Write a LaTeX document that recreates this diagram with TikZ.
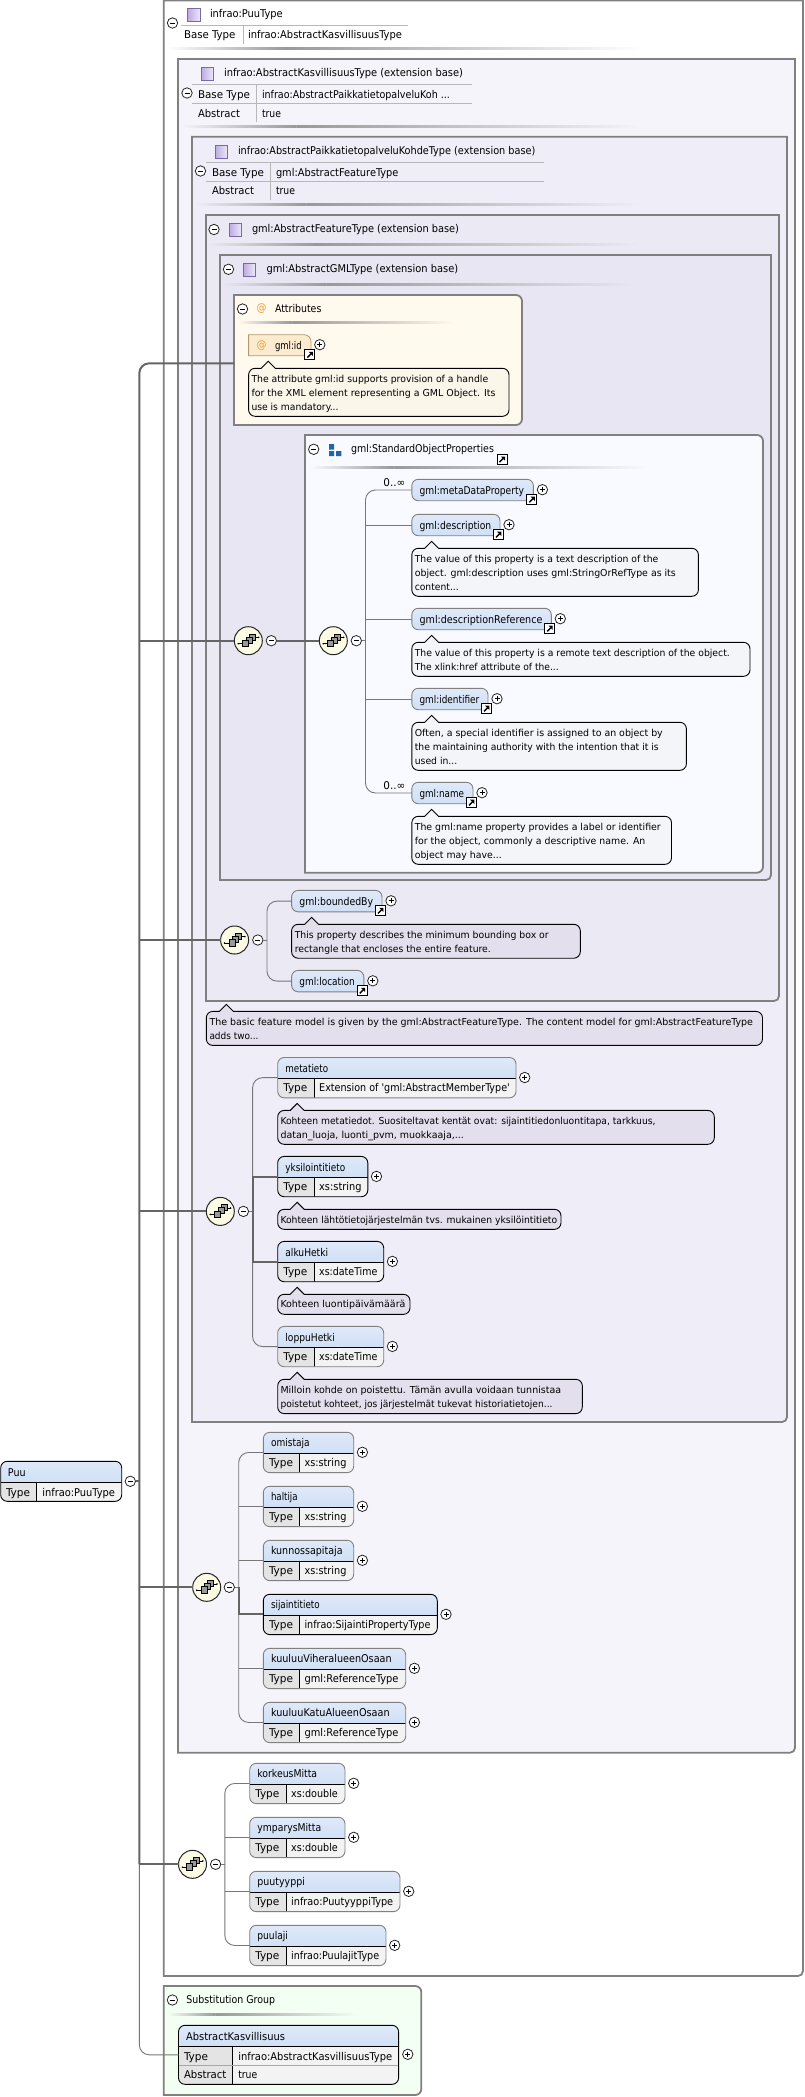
\documentclass[tikz,border=0pt]{standalone}
\usepackage{graphicx}
\usepackage{fontspec}
\newfontfamily\lf{DejaVu Sans Condensed}
\newfontfamily\df{DejaVu Sans Condensed}
\definecolor{frameg}{HTML}{808080}
\definecolor{conng}{HTML}{777777}
\definecolor{bgA}{HTML}{F5F4FB}
\definecolor{bgB}{HTML}{EFEDF7}
\definecolor{bgC}{HTML}{EBE9F4}
\definecolor{bgD}{HTML}{E8E6F2}
\definecolor{bgAttr}{HTML}{FFF9EE}
\definecolor{bgSop}{HTML}{F9FAFF}
\definecolor{bgSub}{HTML}{F4FFF4}
\definecolor{docFr}{HTML}{E3DFEC}
\definecolor{docAt}{HTML}{FAF6EA}
\definecolor{docSo}{HTML}{F4F5F8}
\definecolor{hdrT}{HTML}{DFE9F9}
\definecolor{hdrB}{HTML}{D0E0F5}
\definecolor{typeC}{HTML}{E4E4E4}
\definecolor{valC}{HTML}{F3F3F3}
\definecolor{sepD}{HTML}{999999}
\definecolor{tabL}{HTML}{B8B8B8}
\definecolor{ico}{HTML}{7B68A8}
\definecolor{icoL}{HTML}{BBAAE2}
\definecolor{icoR}{HTML}{EDE8F8}
\definecolor{atO}{HTML}{E8A030}
\definecolor{blueS}{HTML}{1F66AE}
\definecolor{compF}{HTML}{FCFCE4}
\definecolor{idF}{HTML}{FDEBCF}
\definecolor{idL}{HTML}{B09A70}
\tikzset{
 lbl/.style={anchor=base west,inner sep=0pt,outer sep=0pt,yshift=-3.8pt,font=\lf\fontsize{10.7}{12}\selectfont,text=black},
 dtext/.style={anchor=base west,inner sep=0pt,outer sep=0pt,yshift=-3.5pt,font=\df\fontsize{9.6}{12}\selectfont,text=black},
 atsign/.style={anchor=center,inner sep=0pt,font=\lf\fontsize{11}{12}\selectfont,text=atO},
 frameline/.style={draw=frameg,line width=1.8pt},
 docline/.style={draw=black,line width=0.9pt},
 circ/.style={circle,draw=black!85,line width=0.8pt,fill=white,minimum size=10.4pt,inner sep=0pt,outer sep=0pt},
 compnode/.style={circle,draw=black!85,line width=1pt,fill=compF,minimum size=28pt,inner sep=0pt,outer sep=0pt},
 conn/.style={draw=conng,line width=0.9pt},
 tconn/.style={draw=conng!85!black,line width=2pt},
 roundel/.style={rectangle,rounded corners=6.5pt,inner sep=0pt,outer sep=0pt,anchor=north west,line width=0.9pt},
 optl/.style={draw=frameg},
 reql/.style={draw=black},
 tabline/.style={draw=tabL,line width=0.8pt},
}
\newcount\nctr
\newcommand{\nextid}{\global\advance\nctr by 1 }
\newcommand{\lbl}[4]{\nextid\node[lbl] (t\the\nctr) at (#1,#2) {\resizebox{#3pt}{\height}{#4}};}
\newcommand{\dl}[4]{\nextid\node[dtext] (t\the\nctr) at (#1,#2) {\resizebox{#3pt}{\height}{#4}};}
\newcommand{\sepline}[4]{%
 \pgfmathsetmacro\xmid{#1+0.25*(#2-#1)}%
 \shade[left color=#4,right color=sepD] (#1,#3-1) rectangle (\xmid,#3+1);%
 \shade[left color=sepD,right color=#4] (\xmid,#3-1) rectangle (#2,#3+1);}
\newcommand{\ticon}[2]{\shade[draw=ico,line width=0.8pt,left color=icoL,right color=icoR] (#1,#2) rectangle (#1+12.5,#2+13);}
\newcommand{\sframe}[5]{\draw[frameline,fill=#5] (#1,#2) -- (#3,#2) -- (#3,#4-5) .. controls (#3,#4-2.2) and (#3-2.2,#4) .. (#3-5,#4) -- (#1,#4) -- cycle;}
\newcommand{\rframe}[5]{\draw[frameline,fill=#5] (#1,#2) -- (#3-6,#2) .. controls (#3-2.7,#2) and (#3,#2+2.7) .. (#3,#2+6) -- (#3,#4-6) .. controls (#3,#4-2.7) and (#3-2.7,#4) .. (#3-6,#4) -- (#1,#4) -- cycle;}
\newcommand{\docbox}[6]{\draw[docline,fill=#6] (#1+6.5,#2) -- (#5-7,#2) -- (#5,#2-7) -- (#5+7,#2) -- (#3-6.5,#2) .. controls (#3-2.9,#2) and (#3,#2+2.9) .. (#3,#2+6.5) -- (#3,#4-6.5) .. controls (#3,#4-2.9) and (#3-2.9,#4) .. (#3-6.5,#4) -- (#1+6.5,#4) .. controls (#1+2.9,#4) and (#1,#4-2.9) .. (#1,#4-6.5) -- (#1,#2+6.5) .. controls (#1,#2+2.9) and (#1+2.9,#2) .. (#1+6.5,#2) -- cycle;}
\newcommand{\pluscirc}[2]{\nextid\node[circ] (p\the\nctr) at (#1,#2) {};\draw[black,line width=0.8pt] (#1-2.5,#2) -- (#1+2.5,#2) (#1,#2-2.5) -- (#1,#2+2.5);}
\newcommand{\minuscirc}[3]{\node[circ] (#1) at (#2,#3) {};\draw[black,line width=0.8pt] (#2-2.5,#3) -- (#2+2.5,#3);}
\newcommand{\linkbox}[2]{\draw[black,line width=1pt,fill=white] (#1,#2) rectangle (#1+10,#2+10);\draw[black,line width=1.4pt] (#1+2.6,#2+7.6) -- (#1+6.2,#2+4);\fill[black] (#1+3.8,#2+2) -- (#1+8,#2+2) -- (#1+8,#2+6.2) -- cycle;}
% element with link: id x1 y1 x2 textwidth text
\newcommand{\relem}[6]{%
 \pgfmathsetmacro\elw{#4-#2}%
 \node[roundel,optl,minimum width=\elw pt,minimum height=21.4pt,top color=hdrT,bottom color=hdrB] (#1) at (#2,#3) {};%
 \lbl{#2+7.8}{#3+11}{#5}{#6}%
 \pluscirc{#4+9}{#3+10.4}%
 \linkbox{#4-6.6}{#3+15.4}}
% typed element: id x1 y1 x2 xdiv name nameW value valueW (outline from \estyle)
\def\estyle{optl}
\newcommand{\telem}[9]{%
 \pgfmathsetmacro\elw{#4-#2}%
 \begin{scope}
 \clip[rounded corners=6.5pt] (#2,#3) rectangle (#4,#3+40.3);
 \shade[top color=hdrT,bottom color=hdrB] (#2,#3) rectangle (#4,#3+21);
 \fill[typeC] (#2,#3+21) rectangle (#5,#3+40.3);
 \fill[valC] (#5,#3+21) rectangle (#4,#3+40.3);
 \draw[black,line width=0.8pt] (#2,#3+21) -- (#4,#3+21) (#5,#3+21) -- (#5,#3+40.3);
 \end{scope}
 \node[roundel,\estyle,minimum width=\elw pt,minimum height=40.3pt] (#1) at (#2,#3) {};%
 \lbl{#2+7.7}{#3+10.8}{#7}{#6}%
 \lbl{#2+5.7}{#3+30.6}{24}{Type}%
 \lbl{#5+5.2}{#3+30.6}{#9}{#8}%
 \pluscirc{#4+8.7}{#3+20}}
\newcommand{\compos}[3]{%
 \node[compnode] (#1) at (#2,#3) {};%
 \begin{scope}[shift={(#2,#3)}]
 \draw[black,line width=0.8pt] (-10,3) -- (-5,3) (6,-3.4) -- (10.3,-3.4);
 \fill[black] (-10,3) circle (0.9pt) (10.3,-3.4) circle (0.9pt);
 \draw[black,line width=0.7pt,fill=black!40] (1,-6.7) rectangle (7,-0.7);
 \draw[black,line width=0.7pt,fill=black!40] (-2.3,-3.8) rectangle (3.7,2.4);
 \draw[black,line width=0.7pt,fill=black!40] (-5.7,-0.5) rectangle (0.3,6);
 \end{scope}}
\begin{document}
\begin{tikzpicture}[x=1pt,y=-1pt]
\useasboundingbox (0,0) rectangle (804,2097);
\fill[white] (0,0) rectangle (804,2097);
% ---- frame 1
\sframe{163.8}{0.5}{803}{1976}{white}
\ticon{187.6}{8}
\lbl{210}{14}{72.7}{infrao:PuuType}
\minuscirc{m1}{172.5}{23}
\draw[tabline] (181,25) -- (408,25) (243,26) -- (243,44);
\lbl{184}{35}{51.5}{Base Type}
\lbl{248}{35}{154}{infrao:AbstractKasvillisuusType}
\sepline{167}{643}{48}{white}
% ---- frame 2
\sframe{178}{59}{795}{1752.7}{bgA}
\ticon{201}{67}
\lbl{224}{73}{239}{infrao:AbstractKasvillisuusType (extension base)}
\minuscirc{m2}{187}{93}
\draw[tabline] (192,84) -- (472,84) (192,103) -- (472,103) (256.5,84) -- (256.5,122);
\lbl{198}{94.5}{52}{Base Type}
\lbl{262}{94.5}{188}{infrao:AbstractPaikkatietopalveluKoh ...}
\lbl{198}{113.5}{42}{Abstract}
\lbl{262}{113.5}{19}{true}
\sepline{181}{643}{126}{bgA}
% ---- frame 3
\sframe{192}{136.7}{787}{1422}{bgB}
\ticon{215}{145}
\lbl{238}{151}{297.4}{infrao:AbstractPaikkatietopalveluKohdeType (extension base)}
\minuscirc{m3}{200.5}{171}
\draw[tabline] (206,162) -- (543.5,162) (206,181) -- (543.5,181) (270.7,162) -- (270.7,200);
\lbl{212}{172.5}{52}{Base Type}
\lbl{276}{172.5}{122.4}{gml:AbstractFeatureType}
\lbl{212}{191}{42}{Abstract}
\lbl{276}{191}{19}{true}
\sepline{195}{641}{204}{bgB}
% ---- frame 4
\sframe{206}{215}{779}{1001}{bgC}
\minuscirc{m4}{214}{229.5}
\ticon{229}{223}
\lbl{252}{229}{207}{gml:AbstractFeatureType (extension base)}
\sepline{208}{639}{244}{bgC}
% ---- frame 5
\sframe{220}{255}{771}{880}{bgD}
\minuscirc{m5}{228.5}{269.3}
\ticon{243}{263}
\lbl{266.5}{269}{191.7}{gml:AbstractGMLType (extension base)}
\sepline{223}{637}{284}{bgD}
% ---- attributes
\rframe{234}{295}{522}{425}{bgAttr}
\coordinate (attrPort) at (234,363.3);
\minuscirc{m6}{242.5}{309}
\nextid\node[atsign] (t\the\nctr) at (261.5,309) {@};
\lbl{275}{309}{46.4}{Attributes}
\sepline{238}{455}{322.7}{bgAttr}
\draw[draw=idL,line width=0.8pt,fill=idF] (248.6,334.7) -- (304,334.7) .. controls (308,334.7) and (311,337.7) .. (311,341.7) -- (311,355.7) -- (248.6,355.7) -- cycle;
\nextid\node[atsign] (t\the\nctr) at (261.5,345.5) {@};
\lbl{275}{345.5}{26.7}{gml:id}
\linkbox{304.8}{349.8}
\pluscirc{319.8}{344.7}
\docbox{248.6}{368.3}{509}{416.3}{268.3}{docAt}
\dl{251.5}{378.7}{236.8}{The attribute gml:id supports provision of a handle}
\dl{251.5}{392.7}{244}{for the XML element representing a GML Object. Its}
\dl{251.5}{406.7}{87}{use is mandatory...}
% ---- SOP
\rframe{305}{435}{763}{872.7}{bgSop}
\minuscirc{m7}{313.7}{449.3}
\fill[blueS] (329,444) rectangle (334,449.5) (329,451) rectangle (334,456) (336,451) rectangle (341.3,456);
\lbl{351}{449}{143}{gml:StandardObjectProperties}
\linkbox{497}{454.5}
\sepline{309.5}{649}{467.7}{bgSop}
\relem{metaData}{411.8}{479.3}{533.4}{104.5}{gml:metaDataProperty}
\relem{descr}{411.8}{514.3}{500}{71.6}{gml:description}
\docbox{411.8}{548.3}{698.4}{596.3}{431.6}{docSo}
\dl{414.8}{558.7}{243.6}{The value of this property is a text description of the}
\dl{414.8}{572.7}{261}{object. gml:description uses gml:StringOrRefType as its}
\dl{414.8}{586.7}{44}{content...}
\relem{descrRef}{411.8}{608.3}{551.3}{122.8}{gml:descriptionReference}
\docbox{411.8}{642.3}{750}{676.3}{431.6}{docSo}
\dl{414.8}{652.7}{315}{The value of this property is a remote text description of the object.}
\dl{414.8}{666.7}{144}{The xlink:href attribute of the...}
\relem{ident}{411.8}{688.3}{488}{59.7}{gml:identifier}
\docbox{411.8}{722.3}{686.4}{770.3}{431.6}{docSo}
\dl{414.8}{732.7}{248}{Often, a special identifier is assigned to an object by}
\dl{414.8}{746.7}{244}{the maintaining authority with the intention that it is}
\dl{414.8}{760.7}{42.5}{used in...}
\relem{gmlname}{411.8}{782.3}{473}{44.4}{gml:name}
\docbox{411.8}{816.3}{671.5}{864.3}{431.6}{docSo}
\dl{414.8}{826.7}{246}{The gml:name property provides a label or identifier}
\dl{414.8}{840.7}{230.6}{for the object, commonly a descriptive name. An}
\dl{414.8}{854.7}{87}{object may have...}
\lbl{383.4}{482.3}{22}{0..∞}
\lbl{383.4}{785.3}{22}{0..∞}
\compos{c1}{248.3}{640.7}
\minuscirc{mc1}{271.3}{640.7}
\compos{c2}{333.3}{640.7}
\minuscirc{mc2}{356.3}{640.7}
\coordinate (spineSop) at (365.5,640.7);
% ---- feature sequence
\compos{c3}{234.6}{940}
\minuscirc{mc3}{257.8}{940}
\coordinate (spineF) at (267,940);
\relem{bounded}{291.6}{890.4}{382}{73.8}{gml:boundedBy}
\docbox{291.6}{924.3}{580.3}{958.2}{311.6}{docFr}
\dl{294.8}{934.6}{254}{This property describes the minimum bounding box or}
\dl{294.8}{949}{196}{rectangle that encloses the entire feature.}
\relem{location}{291.6}{970.4}{363.8}{55.4}{gml:location}
% ---- doc of feature
\docbox{206.3}{1011.4}{762.5}{1045.4}{226.3}{docFr}
\dl{209.5}{1021.8}{543.5}{The basic feature model is given by the gml:AbstractFeatureType. The content model for gml:AbstractFeatureType}
\dl{209.5}{1035.7}{49}{adds two...}
% ---- metatieto sequence
\compos{c4}{220.3}{1211.4}
\minuscirc{mc4}{243.4}{1211.4}
\coordinate (spineM) at (252.6,1211.4);
\def\estyle{optl}
\telem{metatieto}{277.7}{1057.5}{516}{314}{metatieto}{42.7}{Extension of 'gml:AbstractMemberType'}{190.6}
\docbox{277.7}{1110.4}{714.3}{1144.3}{297.2}{docFr}
\dl{280.5}{1120.7}{375}{Kohteen metatiedot. Suositeltavat kentät ovat: sijaintitiedonluontitapa, tarkkuus,}
\dl{280.5}{1134.6}{183.4}{datan\_luoja, luonti\_pvm, muokkaaja,...}
\def\estyle{reql}
\telem{yksil}{277.7}{1156.4}{367.8}{314}{yksilointitieto}{59.8}{xs:string}{42.3}
\docbox{277.7}{1209.3}{561}{1229.3}{297.2}{docFr}
\dl{280.5}{1219.6}{276.7}{Kohteen lähtötietojärjestelmän tvs. mukainen yksilöintitieto}
\telem{alku}{277.7}{1241.4}{383.7}{314}{alkuHetki}{42.7}{xs:dateTime}{58.2}
\docbox{277.7}{1294.3}{410}{1314.3}{297.2}{docFr}
\dl{280.5}{1304.3}{125}{Kohteen luontipäivämäärä}
\def\estyle{optl}
\telem{loppu}{277.7}{1326.4}{383.7}{314}{loppuHetki}{49.4}{xs:dateTime}{58.2}
\docbox{277.7}{1379.3}{582.3}{1413.6}{297.2}{docFr}
\dl{280.5}{1389.6}{280.7}{Milloin kohde on poistettu. Tämän avulla voidaan tunnistaa}
\dl{280.5}{1404}{272}{poistetut kohteet, jos järjestelmät tukevat historiatietojen...}
% ---- kasvillisuus sequence
\compos{c5}{206.7}{1587.3}
\minuscirc{mc5}{229.3}{1587.3}
\coordinate (spineK) at (238.7,1587.3);
\telem{omistaja}{263.3}{1432.3}{353.7}{299.3}{omistaja}{38.7}{xs:string}{42}
\telem{haltija}{263.3}{1486.3}{353.7}{299.3}{haltija}{26.7}{xs:string}{42}
\telem{kunnossa}{263.3}{1540.3}{353.7}{299.3}{kunnossapitaja}{71.7}{xs:string}{42}
\def\estyle{reql}
\telem{sijainti}{263.3}{1594.3}{437.3}{299.3}{sijaintitieto}{48.7}{infrao:SijaintiPropertyType}{126}
\def\estyle{optl}
\telem{viher}{263.3}{1648.3}{405.7}{299.3}{kuuluuViheralueenOsaan}{120.7}{gml:ReferenceType}{94}
\telem{katu}{263.3}{1702.3}{405.7}{299.3}{kuuluuKatuAlueenOsaan}{118.7}{gml:ReferenceType}{94}
% ---- puu sequence
\compos{c6}{192.5}{1864.3}
\minuscirc{mc6}{215.6}{1864.3}
\coordinate (spineP) at (224.8,1864.3);
\telem{korkeus}{249.7}{1763.3}{345}{286}{korkeusMitta}{59.8}{xs:double}{46.7}
\telem{ymparys}{249.7}{1817.3}{345}{286}{ymparysMitta}{63.8}{xs:double}{46.7}
\telem{puutyyppi}{249.7}{1871.3}{400}{286}{puutyyppi}{47.6}{infrao:PuutyyppiType}{102}
\telem{puulaji}{249.7}{1925.3}{386}{286}{puulaji}{30.6}{infrao:PuulajitType}{88}
% ---- substitution group
\rframe{163.7}{1986}{421.3}{2095}{bgSub}
\minuscirc{m8}{172.4}{2000}
\lbl{186.4}{2000}{88.6}{Substitution Group}
\sepline{168}{358}{2014}{bgSub}
\begin{scope}
\clip[rounded corners=6.5pt] (178.5,2025.3) rectangle (398.6,2084.3);
\shade[top color=hdrT,bottom color=hdrB] (178.5,2025.3) rectangle (398.6,2046.3);
\fill[typeC] (178.5,2046.3) rectangle (232.7,2084.3);
\fill[valC] (232.7,2046.3) rectangle (398.6,2084.3);
\draw[black,line width=0.8pt] (178.5,2046.3) -- (398.6,2046.3) (232.7,2046.3) -- (232.7,2084.3);
\draw[black!35,line width=0.8pt] (178.5,2065.3) -- (398.6,2065.3);
\end{scope}
\node[roundel,reql,minimum width=220.1pt,minimum height=59pt] (abstr) at (178.5,2025.3) {};
\lbl{186}{2036.3}{99}{AbstractKasvillisuus}
\lbl{184}{2056.3}{24}{Type}
\lbl{238.3}{2056.3}{154}{infrao:AbstractKasvillisuusType}
\lbl{184}{2075}{42.4}{Abstract}
\lbl{238.3}{2075}{19}{true}
\pluscirc{407.8}{2054.3}
% ---- root
\begin{scope}
\clip[rounded corners=6.5pt] (0.7,1461.3) rectangle (121.7,1501.3);
\shade[top color=hdrT,bottom color=hdrB] (0.7,1461.3) rectangle (121.7,1482.3);
\fill[typeC] (0.7,1482.3) rectangle (36,1501.3);
\fill[valC] (36,1482.3) rectangle (121.7,1501.3);
\draw[black,line width=0.8pt] (0.7,1482.3) -- (121.7,1482.3) (36,1482.3) -- (36,1501.3);
\end{scope}
\node[roundel,reql,minimum width=121pt,minimum height=40pt] (puu) at (0.7,1461.3) {};
\lbl{8}{1472.3}{17.7}{Puu}
\lbl{6}{1492.3}{24}{Type}
\lbl{42.3}{1492.3}{72.7}{infrao:PuuType}
\minuscirc{mroot}{130.3}{1481.3}
% ---- connectors
\coordinate (trunk) at (139.3,1864.3);
\draw[tconn,rounded corners=10pt] (attrPort) -| (trunk);
\draw[tconn] (mroot.east) -- (mroot.east -| trunk);
\draw[tconn] (c1.west -| trunk) -- (c1.west);
\draw[tconn] (mc1.east) -- (c2.west);
\draw[tconn] (c3.west -| trunk) -- (c3.west);
\draw[tconn] (c4.west -| trunk) -- (c4.west);
\draw[tconn] (c5.west -| trunk) -- (c5.west);
\draw[tconn] (trunk) -- (c6.west);
\draw[conn,rounded corners=10pt] (trunk) |- (abstr.west);
\draw[conn] (mc2.east) -- (spineSop);
\draw[conn,rounded corners=10pt] (metaData.west) -| (spineSop) |- (gmlname.west);
\draw[conn] (descr.west -| spineSop) -- (descr.west);
\draw[conn] (descrRef.west -| spineSop) -- (descrRef.west);
\draw[conn] (ident.west -| spineSop) -- (ident.west);
\draw[conn] (mc3.east) -- (spineF);
\draw[conn,rounded corners=10pt] (bounded.west) -| (spineF) |- (location.west);
\draw[conn] (mc4.east) -- (spineM);
\draw[conn,rounded corners=10pt] (metatieto.west) -| (spineM) |- (loppu.west);
\draw[tconn] (yksil.west) -| (spineM) |- (alku.west);
\draw[conn] (mc5.east) -- (spineK);
\draw[conn,rounded corners=10pt] (omistaja.west) -| (spineK) |- (katu.west);
\draw[conn] (haltija.west -| spineK) -- (haltija.west);
\draw[conn] (kunnossa.west -| spineK) -- (kunnossa.west);
\draw[conn] (viher.west -| spineK) -- (viher.west);
\draw[tconn] (spineK) |- (sijainti.west);
\draw[conn] (mc6.east) -- (spineP);
\draw[conn,rounded corners=10pt] (korkeus.west) -| (spineP) |- (puulaji.west);
\draw[conn] (ymparys.west -| spineP) -- (ymparys.west);
\draw[conn] (puutyyppi.west -| spineP) -- (puutyyppi.west);
\end{tikzpicture}
\end{document}
